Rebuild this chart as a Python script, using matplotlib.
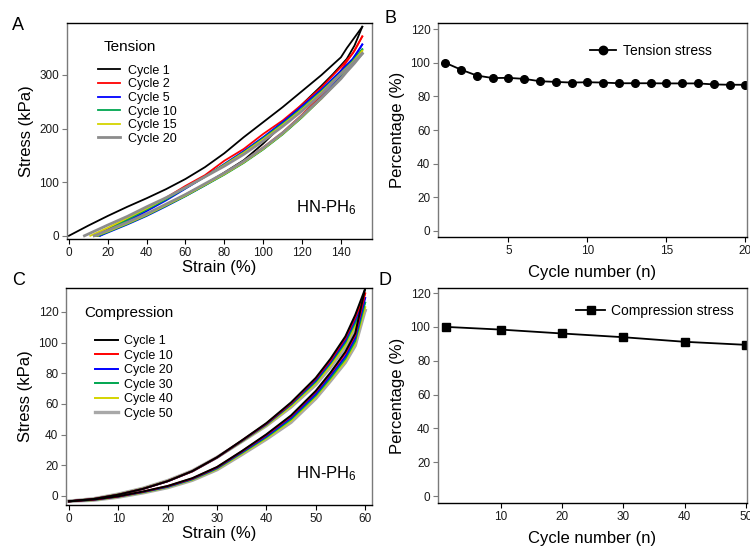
import matplotlib
matplotlib.use("Agg")
import matplotlib.pyplot as plt

plt.rcParams['font.family'] = ['Liberation Sans', 'DejaVu Sans']
plt.rcParams['mathtext.fontset'] = 'custom'
plt.rcParams['mathtext.rm'] = 'Liberation Sans'
plt.rcParams['mathtext.it'] = 'Liberation Sans'

# ---------------- Panel A: tension hysteresis ----------------
t_labels = ["Cycle 1", "Cycle 2", "Cycle 5", "Cycle 10", "Cycle 15", "Cycle 20"]
t_colors = ["#000000", "#ff0000", "#0000ff", "#00a650", "#d4d400", "#8c8c8c"]

t1_load_x = [0, 10, 20, 30, 40, 50, 60, 70, 80, 90, 100, 110, 120, 130, 140, 143, 146, 151]
t1_load_y = [0, 19, 37, 54, 70, 87, 106, 128, 154, 184, 212, 240, 270, 300, 333, 350, 365, 390]
t1_unl_x = [151, 147, 143, 136, 130, 120, 110, 100, 90, 80, 70, 60, 50, 40, 30, 20, 14]
t1_unl_y = [390, 355, 330, 302, 280, 245, 208, 172, 141, 118, 96, 77, 58, 41, 25, 10, 0]

t2_load_x = [13, 20, 30, 40, 50, 60, 70, 80, 90, 100, 110, 120, 130, 140, 146, 151]
t2_load_y = [0, 12, 30, 50, 71, 93, 113, 140, 162, 190, 215, 245, 277, 315, 340, 372]
t2_unl_x = [151, 147, 143, 140, 130, 120, 110, 100, 90, 80, 70, 60, 50, 40, 30, 20, 15]
t2_unl_y = [372, 345, 325, 308, 262, 226, 193, 165, 139, 117, 96, 76, 57, 39, 23, 8, 0]

t5_load_x = [16, 20, 30, 40, 50, 60, 70, 80, 90, 100, 110, 120, 130, 140, 146, 151]
t5_load_y = [0, 8, 27, 46, 66, 88, 110, 134, 158, 184, 212, 242, 273, 308, 330, 357]
t5_unl_x = [151, 147, 143, 140, 130, 120, 110, 100, 90, 80, 70, 60, 50, 40, 30, 20, 16]
t5_unl_y = [357, 333, 315, 298, 258, 222, 190, 162, 137, 115, 94, 74, 55, 37, 21, 6, 0]

t10_load_x = [14, 20, 30, 40, 50, 60, 70, 80, 90, 100, 110, 120, 130, 140, 146, 151]
t10_load_y = [0, 11, 30, 49, 68, 89, 110, 133, 156, 182, 209, 238, 270, 304, 326, 348]
t10_unl_x = [151, 147, 143, 140, 130, 120, 110, 100, 90, 80, 70, 60, 50, 40, 30, 20, 15]
t10_unl_y = [348, 327, 310, 295, 256, 221, 189, 161, 136, 114, 94, 74, 56, 38, 22, 7, 0]

t15_load_x = [11, 20, 30, 40, 50, 60, 70, 80, 90, 100, 110, 120, 130, 140, 146, 151]
t15_load_y = [0, 15, 33, 51, 70, 90, 110, 132, 155, 180, 207, 236, 268, 303, 324, 345]
t15_unl_x = [151, 147, 143, 140, 130, 120, 110, 100, 90, 80, 70, 60, 50, 40, 30, 20, 14]
t15_unl_y = [345, 325, 308, 294, 256, 222, 190, 162, 137, 115, 95, 75, 57, 39, 23, 8, 0]

t20_load_x = [8, 20, 30, 40, 50, 60, 70, 80, 90, 100, 110, 120, 130, 140, 146, 151]
t20_load_y = [0, 20, 36, 54, 71, 90, 110, 130, 152, 177, 204, 233, 265, 302, 322, 340]
t20_unl_x = [151, 147, 143, 140, 130, 120, 110, 100, 90, 80, 70, 60, 50, 40, 30, 20, 13]
t20_unl_y = [340, 322, 306, 293, 257, 224, 192, 164, 139, 117, 97, 77, 59, 41, 25, 10, 0]

# ---------------- Panel C: compression hysteresis ----------------
c_labels = ["Cycle 1", "Cycle 10", "Cycle 20", "Cycle 30", "Cycle 40", "Cycle 50"]
c_colors = ["#000000", "#ff0000", "#0000ff", "#00a650", "#d4d400", "#a8a8a8"]
c_strain = [0, 5, 10, 15, 20, 25, 30, 35, 40, 45, 50, 53, 56, 58, 60]

c1_load = [-3.5, -2.0, 0.8, 4.6, 9.6, 16.2, 25.2, 36.2, 47.5, 61, 77, 89.5, 104, 118, 135]
c1_unl = [-3.5, -2.3, -0.2, 2.9, 6.5, 11.6, 18.9, 29.2, 40.2, 52.5, 68.5, 80.5, 94, 106, 135]
c10_load = [-3.5, -2.0, 0.8, 4.6, 9.6, 16.1, 25.1, 36.0, 47.2, 60.5, 76.5, 88.5, 103, 116.5, 132]
c10_unl = [-3.5, -2.4, -0.3, 2.8, 6.4, 11.4, 18.7, 29.0, 39.8, 52, 68, 80, 93, 105, 132]
c20_load = [-3.5, -2.0, 0.8, 4.6, 9.6, 16.1, 25.0, 35.8, 46.8, 60, 75.5, 87.5, 101.5, 115, 129]
c20_unl = [-3.5, -2.5, -0.4, 2.6, 6.1, 11.1, 18.3, 28.5, 39.0, 51, 66.5, 78.5, 91, 103, 129]
c30_load = [-3.5, -2.0, 0.9, 4.7, 9.7, 16.1, 25.0, 35.6, 46.5, 59.5, 74.5, 86.5, 100, 113, 126]
c30_unl = [-3.5, -2.6, -0.5, 2.4, 5.9, 10.8, 17.9, 28.0, 38.3, 50, 65.5, 77, 89.5, 101, 126]
c40_load = [-3.5, -1.9, 1.0, 4.8, 9.8, 16.2, 25.0, 35.4, 46.0, 58.5, 73.5, 85, 98.5, 111, 123]
c40_unl = [-3.5, -2.7, -0.6, 2.2, 5.7, 10.5, 17.5, 27.4, 37.6, 49, 64.5, 76, 88, 99.5, 123]
c50_load = [-3.4, -1.8, 1.2, 5.0, 10.0, 16.4, 25.2, 35.4, 45.8, 58, 72.5, 84, 97, 109, 121]
c50_unl = [-3.5, -2.8, -0.8, 2.0, 5.4, 10.2, 17.1, 26.9, 37.0, 48, 63.5, 75, 87, 98, 121]

# ---------------- Panels B and D: retention ----------------
b_cycles = list(range(1, 21))
b_percent = [100, 95.9, 92.4, 90.9, 91.0, 90.4, 89.0, 88.6, 88.2, 88.4,
             88.2, 87.8, 87.8, 87.8, 87.7, 87.7, 87.7, 87.1, 86.9, 86.9]
d_cycles = [1, 10, 20, 30, 40, 50]
d_percent = [100, 98.4, 96.1, 93.9, 91.2, 89.4]

# ---------------- Figure ----------------
fig = plt.figure(figsize=(7.5, 5.48), dpi=100)
axA = fig.add_axes([0.0893, 0.5639, 0.4067, 0.3941])
axB = fig.add_axes([0.584, 0.5675, 0.412, 0.3905])
axC = fig.add_axes([0.088, 0.0785, 0.408, 0.396])
axD = fig.add_axes([0.584, 0.082, 0.412, 0.3925])

TICK_FS = 8.5
LABEL_FS = 12


def style(ax):
    for s in ["top", "bottom"]:
        ax.spines[s].set_color("#000000")
    for s in ["left", "right"]:
        ax.spines[s].set_color("#7a7a7a")
    for s in ax.spines.values():
        s.set_linewidth(1.0)
    ax.tick_params(direction="out", length=3.5, width=0.8, labelsize=TICK_FS,
                   top=False, right=False, pad=2, colors="#000000")
    ax.tick_params(axis="y", colors="#7a7a7a", labelcolor="#1a1a1a")
    ax.tick_params(axis="x", labelcolor="#1a1a1a")


# Panel A
t_load = [(t1_load_x, t1_load_y), (t2_load_x, t2_load_y), (t5_load_x, t5_load_y),
          (t10_load_x, t10_load_y), (t15_load_x, t15_load_y), (t20_load_x, t20_load_y)]
t_unl = [(t1_unl_x, t1_unl_y), (t2_unl_x, t2_unl_y), (t5_unl_x, t5_unl_y),
         (t10_unl_x, t10_unl_y), (t15_unl_x, t15_unl_y), (t20_unl_x, t20_unl_y)]
for (lx, ly), (ux, uy), col, lab in zip(t_load, t_unl, t_colors, t_labels):
    lw = 2.0 if col == "#8c8c8c" else 1.3
    axA.plot(lx, ly, color=col, lw=lw, label=lab)
    axA.plot(ux, uy, color=col, lw=lw)
axA.set_xlim(-1, 156)
axA.set_ylim(-6, 397)
axA.set_xticks([0, 20, 40, 60, 80, 100, 120, 140])
axA.set_yticks([0, 100, 200, 300])
style(axA)
axA.set_xlabel("Strain (%)", fontsize=LABEL_FS, labelpad=1)
axA.set_ylabel("Stress (kPa)", fontsize=LABEL_FS, labelpad=4)
axA.text(0.12, 0.87, "Tension", transform=axA.transAxes, fontsize=11)
axA.legend(loc="upper left", bbox_to_anchor=(0.085, 0.83), frameon=False,
           fontsize=9, handlelength=1.8, handletextpad=0.6, labelspacing=0.13,
           borderaxespad=0)
axA.text(0.95, 0.10, "HN-PH$_6$", transform=axA.transAxes, fontsize=12,
         ha="right", va="bottom")

# Panel B
axB.plot(b_cycles, b_percent, color="black", lw=1.3, marker="o", markersize=5.5,
         label="Tension stress")
axB.set_xlim(0.55, 20.1)
axB.set_ylim(-3.6, 123.6)
axB.set_xticks([5, 10, 15, 20])
axB.set_yticks([0, 20, 40, 60, 80, 100, 120])
style(axB)
axB.set_xlabel("Cycle number (n)", fontsize=LABEL_FS, labelpad=6)
axB.set_ylabel("Percentage (%)", fontsize=LABEL_FS, labelpad=4)
axB.legend(loc="upper right", bbox_to_anchor=(0.905, 0.93), frameon=False,
           fontsize=10, handlelength=1.9, handletextpad=0.5, markerscale=1.1,
           borderaxespad=0)

# Panel C
c_load = [c1_load, c10_load, c20_load, c30_load, c40_load, c50_load]
c_unl = [c1_unl, c10_unl, c20_unl, c30_unl, c40_unl, c50_unl]
order = [5, 4, 3, 2, 1, 0]
for i in order:
    col = c_colors[i]
    lw = 2.4 if i == 5 else 1.4
    axC.plot(c_strain, c_load[i], color=col, lw=lw, zorder=2 + (5 - i) * 0.1)
    axC.plot(c_strain, c_unl[i], color=col, lw=lw, zorder=2 + (5 - i) * 0.1)
handles = [plt.Line2D([], [], color=c_colors[i], lw=(2.4 if i == 5 else 1.4))
           for i in range(6)]
axC.set_xlim(-0.6, 61.4)
axC.set_ylim(-5.9, 135.6)
axC.set_xticks([0, 10, 20, 30, 40, 50, 60])
axC.set_yticks([0, 20, 40, 60, 80, 100, 120])
style(axC)
axC.set_xlabel("Strain (%)", fontsize=LABEL_FS, labelpad=1)
axC.set_ylabel("Stress (kPa)", fontsize=LABEL_FS, labelpad=4)
axC.text(0.06, 0.865, "Compression", transform=axC.transAxes, fontsize=11)
axC.legend(handles, c_labels, loc="upper left", bbox_to_anchor=(0.08, 0.805),
           frameon=False, fontsize=9, handlelength=1.8, handletextpad=0.5,
           labelspacing=0.2, borderaxespad=0)
axC.text(0.95, 0.10, "HN-PH$_6$", transform=axC.transAxes, fontsize=12,
         ha="right", va="bottom")

# Panel D
axD.plot(d_cycles, d_percent, color="black", lw=1.3, marker="s", markersize=5.5,
         label="Compression stress")
axD.set_xlim(-0.3, 50.2)
axD.set_ylim(-4.1, 123)
axD.set_xticks([10, 20, 30, 40, 50])
axD.set_yticks([0, 20, 40, 60, 80, 100, 120])
style(axD)
axD.set_xlabel("Cycle number (n)", fontsize=LABEL_FS, labelpad=6)
axD.set_ylabel("Percentage (%)", fontsize=LABEL_FS, labelpad=4)
axD.legend(loc="upper right", bbox_to_anchor=(0.975, 0.95), frameon=False,
           fontsize=10, handlelength=2.1, handletextpad=0.4, markerscale=1.1,
           borderaxespad=0)

# Panel letters
fig.text(12 / 750, 1 - 30 / 548, "A", fontsize=13)
fig.text(384 / 750, 1 - 23 / 548, "B", fontsize=13)
fig.text(12 / 750, 1 - 285 / 548, "C", fontsize=13)
fig.text(378 / 750, 1 - 285 / 548, "D", fontsize=13)

fig.savefig("out.png", dpi=100)
